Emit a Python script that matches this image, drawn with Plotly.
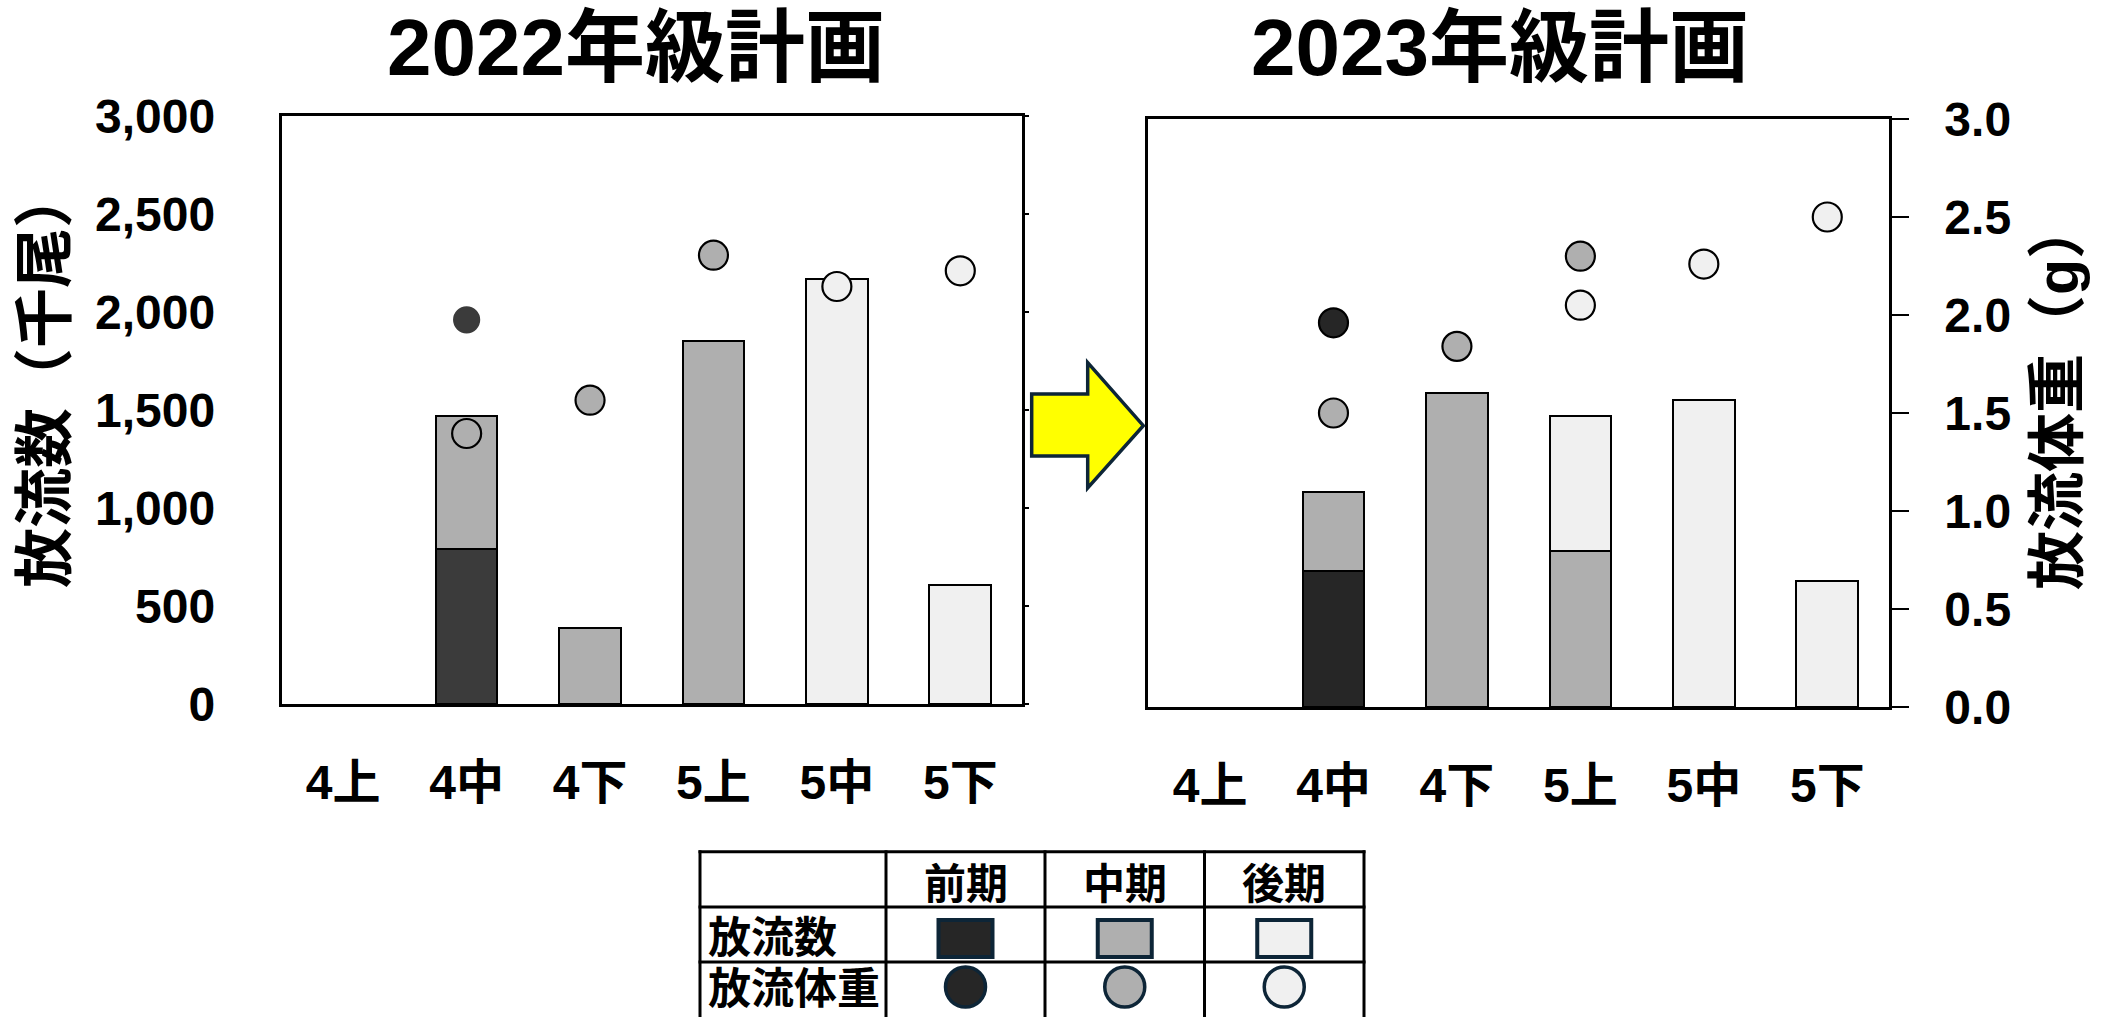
import plotly.graph_objects as go

# ---------------- data ----------------
categories = ["4上", "4中", "4下", "5上", "5中", "5下"]

# 放流数（千尾） stacked segments
count_2022_early = [None, 790, None, None, None, None]
count_2022_mid = [None, 680, 390, 1850, None, None]
count_2022_late = [None, None, None, None, 2170, 605]

count_2023_early = [None, 695, None, None, None, None]
count_2023_mid = [None, 400, 1600, 795, None, None]
count_2023_late = [None, None, None, 690, 1565, 645]

# 放流体重（g）
weight_2022_early = [None, 1.96, None, None, None, None]
weight_2022_mid = [None, 1.38, 1.55, 2.29, None, None]
weight_2022_late = [None, None, None, None, 2.13, 2.21]

weight_2023_early = [None, 1.96, None, None, None, None]
weight_2023_mid = [None, 1.50, 1.84, 2.30, None, None]
weight_2023_late = [None, None, None, 2.05, 2.26, 2.50]

count_ticks = [0, 500, 1000, 1500, 2000, 2500, 3000]
weight_ticks = [0.0, 0.5, 1.0, 1.5, 2.0, 2.5, 3.0]

titles = ["2022年級計画", "2023年級計画"]
legend_cols = ["前期", "中期", "後期"]
legend_rows = ["放流数", "放流体重"]

# ---------------- styling ----------------
W, H = 2112, 1017
FONT = "Liberation Sans, Noto Sans CJK JP, sans-serif"
DARK_L = "#3b3b3b"
DARK_R = "#262626"
GRAY = "#afafaf"
LIGHT = "#f0f0f0"
NAVY = "#0d2537"


def px(x):
    return x / W


def py(y):
    return 1 - y / H


fig = go.Figure()

# bars
def add_bars(xa, ya, early, mid, late, dark):
    for vals, col in ((early, dark), (mid, GRAY), (late, LIGHT)):
        fig.add_trace(go.Bar(
            x=categories, y=vals, xaxis=xa, yaxis=ya, width=0.5,
            marker=dict(color=col, line=dict(color="black", width=2)),
            hoverinfo="skip"))


add_bars("x", "y", count_2022_early, count_2022_mid, count_2022_late, DARK_L)
add_bars("x2", "y3", count_2023_early, count_2023_mid, count_2023_late, DARK_R)

# dots
def add_dots(xa, ya, early, mid, late, dark, dark_line, dark_size):
    specs = ((early, dark, dark_line, dark_size), (mid, GRAY, "black", 29), (late, LIGHT, "black", 29))
    for vals, col, lc, sz in specs:
        fig.add_trace(go.Scatter(
            x=categories, y=vals, xaxis=xa, yaxis=ya, mode="markers",
            marker=dict(color=col, size=sz, line=dict(color=lc, width=2.2)),
            hoverinfo="skip"))


add_dots("x", "y2", weight_2022_early, weight_2022_mid, weight_2022_late, DARK_L, DARK_L, 25)
add_dots("x2", "y4", weight_2023_early, weight_2023_mid, weight_2023_late, DARK_R, "black", 29)

tickfont = dict(family=FONT, size=48, color="black", weight=700)

xcommon = dict(type="category", categoryorder="array", categoryarray=categories,
               range=[-0.5, 5.5], showline=True, linewidth=2.5, linecolor="black",
               mirror=True, ticks="", showgrid=False, zeroline=False, automargin=False,
               tickfont=tickfont, ticklabelstandoff=35)

fig.update_layout(
    width=W, height=H, autosize=False,
    margin=dict(l=0, r=0, t=0, b=0, autoexpand=False),
    paper_bgcolor="white", plot_bgcolor="white",
    showlegend=False, barmode="stack", bargap=0.5,
    font=dict(family=FONT, color="black"),
    xaxis=dict(domain=[px(281.5), px(1022)], anchor="y", **xcommon),
    yaxis=dict(domain=[py(704), py(116)], anchor="x", range=[0, 3000],
               tickvals=count_ticks, tickformat=",", showline=True, linewidth=2.5,
               linecolor="black", ticks="", showgrid=False, zeroline=False, automargin=False,
               tickfont=tickfont, ticklabelstandoff=54),
    yaxis2=dict(overlaying="y", anchor="x", side="right", range=[0, 3],
                tickvals=weight_ticks, showticklabels=False, showline=True,
                linewidth=2.5, linecolor="black", ticks="outside", ticklen=4,
                tickwidth=2, tickcolor="black", showgrid=False, zeroline=False,
                automargin=False),
    xaxis2=dict(domain=[px(1148.3), px(1889)], anchor="y3", **xcommon),
    yaxis3=dict(domain=[py(707), py(119)], anchor="x2", range=[0, 3000],
                showticklabels=False, showline=True, linewidth=2.5, linecolor="black",
                ticks="", showgrid=False, zeroline=False, automargin=False),
    yaxis4=dict(overlaying="y3", anchor="x2", side="right", range=[0, 3],
                tickvals=weight_ticks, tickformat=".1f", showline=True, linewidth=2.5,
                linecolor="black", ticks="outside", ticklen=17, tickwidth=2,
                tickcolor="black", showgrid=False, zeroline=False, automargin=False,
                tickfont=tickfont, ticklabelstandoff=26),
)

annotations = []
# titles
for t, cx in zip(titles, (636, 1500)):
    annotations.append(dict(text=t, x=px(cx), y=py(47), xref="paper", yref="paper",
                            showarrow=False, xanchor="center", yanchor="middle",
                            font=dict(family=FONT, size=80, color="black", weight=700)))
# axis titles
annotations.append(dict(text="放流数（千尾）", x=px(45), y=py(378), xref="paper", yref="paper",
                        showarrow=False, textangle=-90, xanchor="center", yanchor="middle",
                        font=dict(family=FONT, size=60, color="black", weight=700)))
annotations.append(dict(text="放流体重（g）", x=px(2058), y=py(395), xref="paper", yref="paper",
                        showarrow=False, textangle=-90, xanchor="center", yanchor="middle",
                        font=dict(family=FONT, size=59, color="black", weight=700)))

shapes = []
# arrow
arrow_pts = [(1031.7, 394), (1087.7, 394), (1087.7, 362.7), (1143.3, 425.7),
             (1087.7, 488), (1087.7, 456), (1031.7, 456)]
path = "M " + " L ".join(f"{px(x):.5f},{py(y):.5f}" for x, y in arrow_pts) + " Z"
shapes.append(dict(type="path", path=path, xref="paper", yref="paper",
                   fillcolor="#ffff00", line=dict(color=NAVY, width=3.5)))

# legend table grid
vx = [700, 886, 1045, 1204.5, 1364]
hy = [851.7, 907, 962]
for x in vx:
    shapes.append(dict(type="line", xref="paper", yref="paper", x0=px(x), x1=px(x),
                       y0=py(850.3), y1=py(1030), line=dict(color="black", width=3)))
for y in hy:
    shapes.append(dict(type="line", xref="paper", yref="paper", x0=px(698.5), x1=px(1365.5),
                       y0=py(y), y1=py(y), line=dict(color="black", width=3)))

col_centers = [(vx[i] + vx[i + 1]) / 2 for i in range(1, 4)]
for name, cx in zip(legend_cols, col_centers):
    annotations.append(dict(text=name, x=px(cx), y=py(884), xref="paper", yref="paper",
                            showarrow=False, xanchor="center", yanchor="middle",
                            font=dict(family=FONT, size=42, color="black", weight=700)))
for name, cy in zip(legend_rows, (938, 989)):
    annotations.append(dict(text=name, x=px(706), y=py(cy), xref="paper", yref="paper",
                            showarrow=False, xanchor="left", yanchor="middle",
                            font=dict(family=FONT, size=43, color="black", weight=700)))

legend_fills = [DARK_R, GRAY, LIGHT]
for cx, fc in zip(col_centers, legend_fills):
    shapes.append(dict(type="rect", xref="paper", yref="paper",
                       x0=px(cx - 27), x1=px(cx + 27), y0=py(957), y1=py(920),
                       fillcolor=fc, line=dict(color=NAVY, width=4)))
    shapes.append(dict(type="circle", xref="paper", yref="paper",
                       x0=px(cx - 20), x1=px(cx + 20), y0=py(1007), y1=py(967),
                       fillcolor=fc, line=dict(color=NAVY, width=3.5)))

fig.update_layout(annotations=annotations, shapes=shapes)

fig.write_html("out.html")
